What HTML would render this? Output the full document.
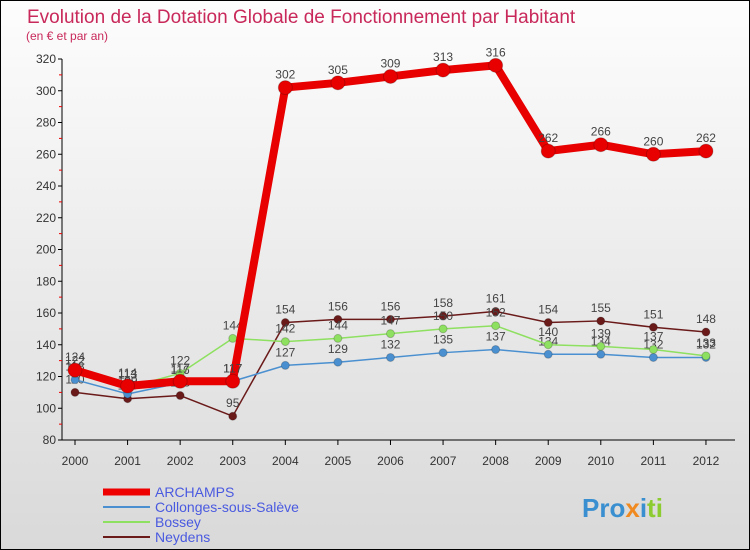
<!DOCTYPE html>
<html><head><meta charset="utf-8"><style>
body{margin:0;width:750px;height:550px;overflow:hidden;font-family:"Liberation Sans",sans-serif}
#wrap{position:absolute;left:0;top:0;width:748px;height:548px;border:1px solid #000;background:linear-gradient(#fdfdfd,#d9d9d9)}
</style></head><body>
<div id="wrap">
<svg id="chart" width="750" height="550" style="position:absolute;left:-1px;top:-1px">
<text x="27" y="23" font-size="19" fill="#c8285a">Evolution de la Dotation Globale de Fonctionnement par Habitant</text>
<text x="26" y="40" font-size="12" fill="#c8285a">(en € et par an)</text>
<g id="axes"></g><g id="series"></g>
<g>
<line x1="103" y1="492" x2="150" y2="492" stroke="#e00" stroke-width="7"/>
<text x="155" y="497" font-size="14" fill="#4a5ae0">ARCHAMPS</text>
<line x1="103" y1="507" x2="150" y2="507" stroke="#4a90d0" stroke-width="2"/>
<text x="155" y="512" font-size="14" fill="#4a5ae0">Collonges-sous-Salève</text>
<line x1="103" y1="522" x2="150" y2="522" stroke="#8ee060" stroke-width="2"/>
<text x="155" y="527" font-size="14" fill="#4a5ae0">Bossey</text>
<line x1="103" y1="537" x2="150" y2="537" stroke="#6b1a1a" stroke-width="2"/>
<text x="155" y="542" font-size="14" fill="#4a5ae0">Neydens</text>
</g>
<text x="582" y="517" font-size="26" font-weight="bold" fill="#3a8fd0">Pro<tspan fill="#f08a20">x</tspan><tspan fill="#3a8fd0">i</tspan><tspan fill="#8ccc30">ti</tspan></text>
</svg></div>
<script>
const years=[2000,2001,2002,2003,2004,2005,2006,2007,2008,2009,2010,2011,2012];
const yTicks=[80,100,120,140,160,180,200,220,240,260,280,300,320];
const archamps=[124,114,117,117,302,305,309,313,316,262,266,260,262];
const collonges=[118,109,116,117,127,129,132,135,137,134,134,132,132];
const bossey=[122,113,122,144,142,144,147,150,152,140,139,137,133];
const neydens=[110,106,108,95,154,156,156,158,161,154,155,151,148];
const NS="http://www.w3.org/2000/svg";
const xS=i=>75+i*52.58;
const yS=v=>440-(v-80)*(381/240);
function mk(t,a,p){const e=document.createElementNS(NS,t);for(const k in a)e.setAttribute(k,a[k]);p.appendChild(e);return e;}
const ax=document.getElementById('axes');
const yaxis=mk('line',{x1:62,y1:yS(320),x2:62,y2:440,stroke:'#000'},ax);


const xaxis=mk('line',{x1:62,y1:440,x2:735,y2:440,stroke:'#000'},ax);


yTicks.forEach((v,i)=>{
  mk('line',{x1:58,y1:yS(v),x2:62,y2:yS(v),stroke:'#000'},ax);
  if(i<yTicks.length-1)mk('line',{x1:59,y1:yS(v+10),x2:62,y2:yS(v+10),stroke:'#e00'},ax);
  const t=mk('text',{x:56,y:yS(v)+4,'font-size':12,'text-anchor':'end',fill:'#333'},ax);
  t.textContent=v;
  
  
});
years.forEach((y,i)=>{
  mk('line',{x1:xS(i),y1:440,x2:xS(i),y2:445,stroke:'#000'},ax);
  const t=mk('text',{x:xS(i),y:465,'font-size':12,'text-anchor':'middle',fill:'#333'},ax);
  t.textContent=y;
  
  
});
const sg=document.getElementById('series');
function series(name,data,color,w,r){
  const g=mk('g',{},sg);
  
  
  const pl=mk('polyline',{points:data.map((v,i)=>xS(i)+','+yS(v)).join(' '),fill:'none',stroke:color,'stroke-width':w,'stroke-linejoin':'round'},g);
  
  
  data.forEach((v,i)=>{
    const c=mk('circle',{cx:xS(i),cy:yS(v),r:r,fill:color,stroke:'#0003'},g);
    
    
    const t=mk('text',{x:xS(i),y:yS(v)-9,'font-size':12,'text-anchor':'middle',fill:'#444'},g);
    t.textContent=v;
    
    
  });
}
series('neydens',neydens,'#6b1a1a',1.5,4);
series('collonges',collonges,'#4a90d0',1.5,4);
series('bossey',bossey,'#8ee060',1.5,4);
series('archamps',archamps,'#e80000',8,7);
</script>
</body></html>
